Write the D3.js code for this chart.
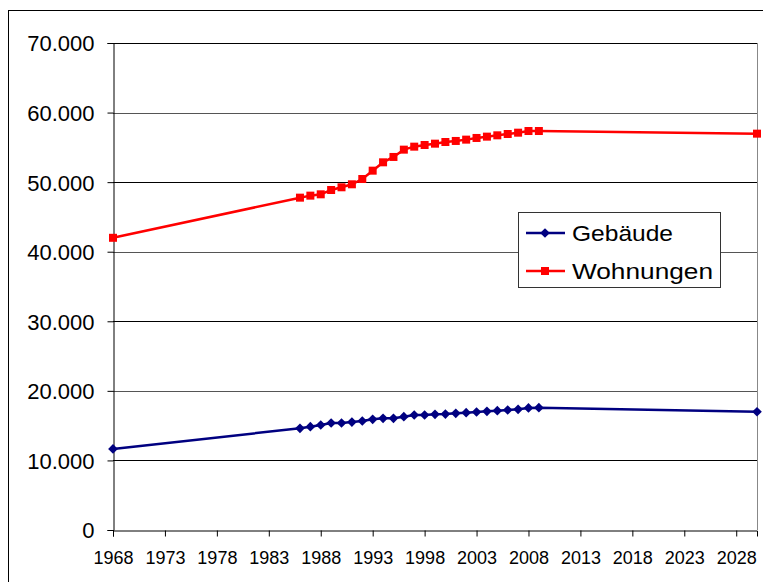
<!DOCTYPE html>
<html>
<head>
<meta charset="utf-8">
<script src="https://cdn.jsdelivr.net/npm/d3@7"></script>
<style>
  body { margin: 0; background: #fff; }
  text { font-family: "Liberation Sans", Arial, sans-serif; fill: #000; }
</style>
</head>
<body>
<div id="chart"></div>
<script>
  // years of the measurements
  var years = [1968, 1986, 1987, 1988, 1989, 1990, 1991, 1992, 1993, 1994, 1995, 1996, 1997,
    1998, 1999, 2000, 2001, 2002, 2003, 2004, 2005, 2006, 2007, 2008, 2009, 2030]

  // Gebäude
  var gebaeude = [11650, 14620, 14850, 15090, 15380, 15380, 15520, 15670, 15910, 16050, 16050,
    16290, 16530, 16530, 16630, 16670, 16770, 16860, 16960, 17060, 17150, 17250, 17350, 17540,
    17580, 17000]

  // Wohnungen
  var wohnungen = [42000, 47770, 48060, 48250, 48870, 49260, 49690, 50450, 51650, 52850, 53620,
    54670, 55100, 55340, 55530, 55770, 55920, 56110, 56350, 56540, 56730, 56920, 57110, 57350,
    57350, 56970]

  var yTicks = [0, 10000, 20000, 30000, 40000, 50000, 60000, 70000]
  var xTicks = [1968, 1973, 1978, 1983, 1988, 1993, 1998, 2003, 2008, 2013, 2018, 2023, 2028]

  var seriesNames = ["Gebäude", "Wohnungen"]
  var seriesColors = ["#000080", "#ff0000"]

  var width = 763, height = 582
  var margin = {top: 43, right: 6, bottom: 52, left: 113}

  var svg = d3.select("#chart").append("svg")
    .attr("width", width)
    .attr("height", height)

  // outer chart border (runs past the picture bottom and right)
  svg.append("rect")
    .attr("x", 8.5).attr("y", 10.5)
    .attr("width", 800).attr("height", 700)
    .attr("fill", "#fff")
    .attr("stroke", "#000")

  var x = d3.scaleLinear()
    .domain([1968, 2030])
    .range([margin.left, width - margin.right])

  var y = d3.scaleLinear()
    .domain([0, 70000])
    .range([height - margin.bottom, margin.top])

  var de = d3.formatLocale({decimal: ",", thousands: ".", grouping: [3], currency: ["", " €"]})
  var fmt = de.format(",d")

  // gridlines
  svg.append("g").selectAll("line")
    .data(yTicks.slice(1))
    .enter().append("line")
      .attr("x1", margin.left)
      .attr("x2", width - margin.right)
      .attr("y1", function(d) { return Math.round(y(d)) + 0.5 })
      .attr("y2", function(d) { return Math.round(y(d)) + 0.5 })
      .attr("stroke", function(d, i) { return i % 2 == 0 ? "#000" : "#555" })

  // right border of plot area
  svg.append("line")
    .attr("x1", width - margin.right + 0.5).attr("x2", width - margin.right + 0.5)
    .attr("y1", y(70000)).attr("y2", y(0))
    .attr("stroke", "#888")

  // y axis
  var yAxis = d3.axisLeft(y)
    .tickValues(yTicks)
    .tickSize(6)
    .tickFormat(function(d) { return d == 0 ? "0" : fmt(d) })

  var gy = svg.append("g")
    .attr("transform", "translate(" + (margin.left + 0.5) + ",0)")
    .call(yAxis)
  gy.select(".domain").attr("stroke", "#000")
  gy.selectAll(".tick line").attr("stroke", "#000")
  gy.selectAll(".tick text")
    .attr("x", -19)
    .attr("dy", "0.36em")
    .style("font-size", "22px")
    .style("font-family", "Liberation Sans, Arial, sans-serif")

  // x axis
  var xAxis = d3.axisBottom(x)
    .tickValues(xTicks)
    .tickSize(6)
    .tickFormat(function(d) { return d })

  var gx = svg.append("g")
    .attr("transform", "translate(0," + (y(0) + 0.5) + ")")
    .call(xAxis)
  gx.select(".domain").attr("stroke", "#000")
  gx.selectAll(".tick line").attr("stroke", "#000")
  gx.selectAll(".tick text")
    .attr("y", 33)
    .attr("dy", 0)
    .style("font-size", "18px")
    .style("font-family", "Liberation Sans, Arial, sans-serif")

  var line = d3.line()
    .x(function(d) { return x(d[0]) })
    .y(function(d) { return y(d[1]) })

  var dataG = years.map(function(yr, i) { return [yr, gebaeude[i]] })
  var dataW = years.map(function(yr, i) { return [yr, wohnungen[i]] })

  // Gebäude line with diamonds
  svg.append("path")
    .datum(dataG)
    .attr("d", line)
    .attr("fill", "none")
    .attr("stroke", seriesColors[0])
    .attr("stroke-width", 2.5)

  var diamond = d3.symbol().type(d3.symbolDiamond2).size(60)

  svg.append("g").selectAll("path")
    .data(dataG)
    .enter().append("path")
      .attr("d", diamond)
      .attr("transform", function(d) { return "translate(" + x(d[0]) + "," + y(d[1]) + ")" })
      .attr("fill", seriesColors[0])

  // Wohnungen line with squares
  svg.append("path")
    .datum(dataW)
    .attr("d", line)
    .attr("fill", "none")
    .attr("stroke", seriesColors[1])
    .attr("stroke-width", 2.5)

  svg.append("g").selectAll("rect")
    .data(dataW)
    .enter().append("rect")
      .attr("x", function(d) { return x(d[0]) - 4 })
      .attr("y", function(d) { return y(d[1]) - 4 })
      .attr("width", 8)
      .attr("height", 8)
      .attr("fill", seriesColors[1])

  // legend
  var legend = svg.append("g")
  legend.append("rect")
    .attr("x", 518.5).attr("y", 212.5)
    .attr("width", 202).attr("height", 75)
    .attr("fill", "#fff")
    .attr("stroke", "#333")

  var item = legend.selectAll(".legend")
    .data(seriesNames)
    .enter().append("g")
      .attr("class", "legend")
      .attr("transform", function(d, i) { return "translate(0," + (233 + i * 38) + ")" })

  item.append("line")
    .attr("x1", 526).attr("x2", 565)
    .attr("stroke", function(d, i) { return seriesColors[i] })
    .attr("stroke-width", 2.5)

  item.filter(function(d, i) { return i == 0 }).append("path")
    .attr("d", diamond)
    .attr("transform", "translate(545,0)")
    .attr("fill", seriesColors[0])

  item.filter(function(d, i) { return i == 1 }).append("rect")
    .attr("x", 541).attr("y", -4)
    .attr("width", 8).attr("height", 8)
    .attr("fill", seriesColors[1])

  item.append("text")
    .attr("x", 572)
    .attr("y", 8)
    .attr("textLength", function(d, i) { return i == 0 ? 101 : 141 })
    .attr("lengthAdjust", "spacingAndGlyphs")
    .style("font-size", "22px")
    .text(function(d) { return d })
</script>
</body>
</html>
